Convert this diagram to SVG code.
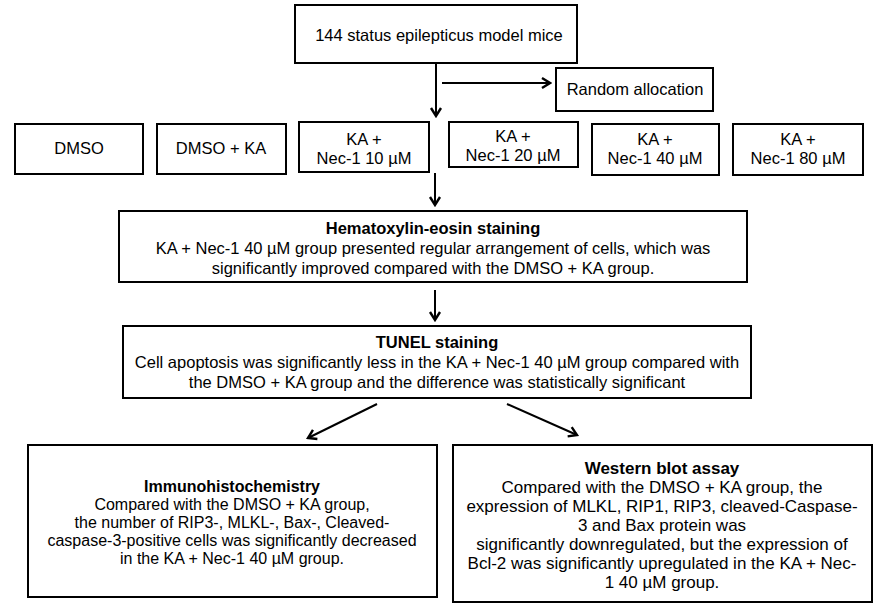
<svg xmlns="http://www.w3.org/2000/svg" width="876" height="606" viewBox="0 0 876 606">
<defs>
<marker id="ah" viewBox="-10 -7 12 14" markerWidth="12" markerHeight="14" refX="0" refY="0" orient="auto" markerUnits="userSpaceOnUse">
<path d="M-8,-5 L0,0 L-8,5" fill="none" stroke="#000" stroke-width="2.4" stroke-linejoin="miter"/>
</marker>
<style>
.box{fill:#fff;stroke:#000;stroke-width:2}
.t{font-family:"Liberation Sans",Arial,sans-serif;font-size:16.5px;fill:#000;text-anchor:middle}
.s{font-size:16px}
.l{font-size:17px}
.b{font-weight:bold}
.c{stroke:#000;stroke-width:2;fill:none;marker-end:url(#ah)}
</style>
</defs>
<rect width="876" height="606" fill="#fff"/>
<g id="connectors">
<line class="c" x1="436" y1="63" x2="436" y2="116"/>
<line class="c" x1="442" y1="83" x2="550" y2="83"/>
<line class="c" x1="435" y1="173" x2="435" y2="205"/>
<line class="c" x1="435" y1="290" x2="435" y2="320"/>
<line class="c" x1="377" y1="404" x2="308" y2="438"/>
<line class="c" x1="507" y1="404" x2="577" y2="435"/>
</g>
<g id="mice">
<rect class="box" x="295" y="5" width="282" height="58"/>
<text class="t" x="439" y="41">144  status epilepticus model mice</text>
</g>
<g id="random">
<rect class="box" x="556" y="68" width="157" height="43"/>
<text class="t" x="635" y="95">Random allocation</text>
</g>
<g id="dmso">
<rect class="box" x="15" y="124" width="128" height="50"/>
<text class="t" x="79" y="154">DMSO</text>
</g>
<g id="dmso-ka">
<rect class="box" x="157" y="124" width="129" height="50"/>
<text class="t" x="221" y="154">DMSO + KA</text>
</g>
<g id="nec10">
<rect class="box" x="299" y="122" width="130" height="50" stroke-width="2.5"/>
<text class="t" x="364" y="145">KA +</text>
<text class="t" x="364" y="164">Nec-1 10 µM</text>
</g>
<g id="nec20">
<rect class="box" x="449" y="122" width="129" height="45"/>
<text class="t" x="513" y="142">KA +</text>
<text class="t" x="513" y="161">Nec-1 20 µM</text>
</g>
<g id="nec40">
<rect class="box" x="592" y="124" width="127" height="51"/>
<text class="t" x="655" y="145">KA +</text>
<text class="t" x="655" y="164">Nec-1 40 µM</text>
</g>
<g id="nec80">
<rect class="box" x="733" y="124" width="130" height="51"/>
<text class="t" x="798" y="145">KA +</text>
<text class="t" x="798" y="164">Nec-1 80 µM</text>
</g>
<g id="he">
<rect class="box" x="119" y="211" width="628" height="71" stroke-width="2.5"/>
<text class="t b" x="433" y="234">Hematoxylin-eosin staining</text>
<text class="t" x="433" y="254">KA + Nec-1 40 µM group presented regular arrangement of cells, which was</text>
<text class="t" x="433" y="274">significantly improved compared with the DMSO + KA group.</text>
</g>
<g id="tunel">
<rect class="box" x="123" y="326" width="628" height="72" stroke-width="2.5"/>
<text class="t b" x="437" y="348">TUNEL staining</text>
<text class="t" x="437" y="368">Cell apoptosis was significantly less in the KA + Nec-1 40 µM group compared with</text>
<text class="t" x="437" y="388">the DMSO + KA group and the difference was statistically significant</text>
</g>
<g id="ihc">
<rect class="box" x="28" y="445" width="409" height="152" stroke-width="2.5"/>
<text class="t s b" x="232" y="492">Immunohistochemistry</text>
<text class="t s" x="232" y="510">Compared with the DMSO + KA group,</text>
<text class="t s" x="232" y="528">the number of RIP3-, MLKL-, Bax-, Cleaved-</text>
<text class="t s" x="232" y="546">caspase-3-positive cells was significantly decreased</text>
<text class="t s" x="232" y="564">in the KA + Nec-1 40 µM group.</text>
</g>
<g id="wb">
<rect class="box" x="453" y="445" width="419" height="157" stroke-width="2.5"/>
<text class="t l b" x="662" y="474">Western blot assay</text>
<text class="t l" x="662" y="493">Compared with the DMSO + KA group, the</text>
<text class="t l" x="662" y="512">expression of MLKL, RIP1, RIP3, cleaved-Caspase-</text>
<text class="t l" x="662" y="531">3 and Bax protein was</text>
<text class="t l" x="662" y="550">significantly downregulated, but the expression of</text>
<text class="t l" x="662" y="569">Bcl-2 was significantly upregulated in the KA + Nec-</text>
<text class="t l" x="662" y="588">1 40 µM group.</text>
</g>
</svg>
